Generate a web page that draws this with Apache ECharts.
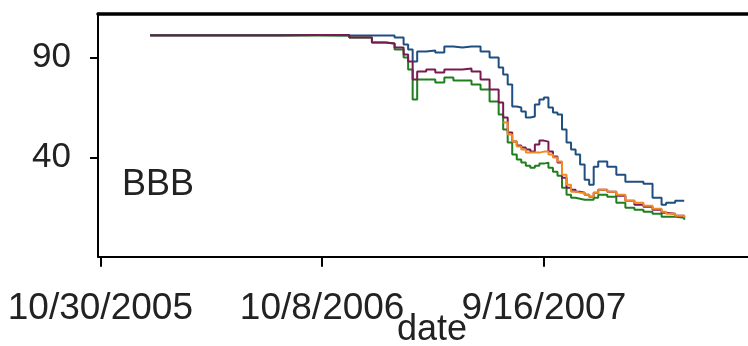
<!DOCTYPE html>
<html>
<head>
<meta charset="utf-8">
<script src="https://cdn.jsdelivr.net/npm/echarts@6/dist/echarts.min.js"></script>
<style>
  html, body { margin: 0; padding: 0; background: #fff; }
  #chart { width: 748px; height: 346px; }
</style>
</head>
<body>
<div id="chart"></div>
<script>
const dates = [
  '2006-01-15', '2006-03-19', '2006-05-28', '2006-08-06', '2006-10-01',
  '2006-11-19', '2006-12-24', '2007-01-14', '2007-01-28', '2007-02-11',
  '2007-02-18', '2007-02-25', '2007-03-04', '2007-03-18', '2007-04-01',
  '2007-04-15', '2007-04-29', '2007-05-13', '2007-05-27', '2007-06-10',
  '2007-06-24', '2007-07-08', '2007-07-15', '2007-07-22', '2007-07-29',
  '2007-08-05', '2007-08-12', '2007-08-19', '2007-08-26', '2007-09-02',
  '2007-09-09', '2007-09-16', '2007-09-23', '2007-09-30', '2007-10-07',
  '2007-10-14', '2007-10-21', '2007-10-28', '2007-11-04', '2007-11-11',
  '2007-11-18', '2007-11-25', '2007-12-02', '2007-12-09', '2007-12-23',
  '2008-01-06', '2008-01-20', '2008-02-03', '2008-02-17', '2008-03-02',
  '2008-03-16', '2008-03-23', '2008-04-06', '2008-04-20'
]

const blue = [
  101.3, 101.3, 101.3, 101.2, 101, 101, 101, 101, 100, 96.5,
  94, 88, 93, 93.5, 92.5, 95.5, 95, 95.5, 95.5, 93,
  90, 85, 81.5, 76.5, 65.5, 65, 63, 60, 60.5, 66.5,
  69, 70, 65, 62.5, 61.5, 54, 47.5, 44, 41.5, 36.5,
  29, 26.5, 35.5, 38, 35.5, 31.5, 28, 28, 27, 20,
  16.5, 17.5, 18.5, 18.5
]
const purple = [
  101, 101, 101, 101.3, 101.3, 100, 97.5, 97, 95, 91.5,
  88, 79, 83, 84, 82.5, 84, 84, 84.5, 83, 79,
  74, 67.5, 60, 52.5, 48, 46, 45, 44, 43, 46.5,
  48.5, 48, 43, 40.5, 37.5, 30, 25, 24, 23, 22.5,
  21.5, 20.5, 22.5, 24, 23, 21, 18.5, 16.5, 15.5, 14,
  12.5, 12, 11, 10
]
const green = [
  101, 101, 101, 101, 101, 100, 97.5, 97, 94, 90,
  84, 69, 79, 79, 77.5, 80, 78.5, 78.5, 76.5, 74,
  68, 61.5, 54, 47.5, 41.5, 39, 37.5, 36, 35, 36,
  37, 37.5, 35, 33, 31, 25, 21.5, 20, 19.5, 19,
  19, 19, 20, 21.5, 20.5, 17.5, 15, 14, 13, 12,
  10.5, 10.5, 10, 9
]
const orange = [
  null, null, null, null, null, null, null, null, null, null,
  null, null, null, null, null, null, null, null, null, null,
  null, null, 57.5, 51.5, 48, 45.5, 44, 42.5, 42.5, 42.5,
  43, 43, 41.5, 40, 38, 31.5, 26.5, 23, 22.5, 22.5,
  21.5, 20.5, 22.5, 24, 23, 21.5, 18.5, 17.5, 16, 14.5,
  13, 12, 11, 10
]

const xTicks = ['2005-10-30', '2006-10-08', '2007-09-16']
const yTicks = [40, 90]

const font = "'Liberation Sans', Arial, sans-serif"
const toTime = s => +new Date(s + 'T00:00:00')
const tickTimes = xTicks.map(toTime)
const xMin = +new Date('2005-10-26T08:00:00')
const xMax = +new Date('2008-07-27T16:00:00')

const fmtDate = v => {
  const d = new Date(v)
  return (d.getMonth() + 1) + '/' + d.getDate() + '/' + d.getFullYear()
}

const mkSeries = (name, vals, color) => ({
  name,
  type: 'line',
  step: 'end',
  data: dates.map((d, i) => [toTime(d), vals[i]]),
  showSymbol: false,
  lineStyle: { width: 2, color },
  itemStyle: { color },
})

const chart = echarts.init(document.getElementById('chart'))
chart.setOption({
  animation: false,
  backgroundColor: '#fff',
  title: {
    text: 'BBB',
    left: 122,
    top: 167,
    padding: 0,
    textStyle: { fontSize: 36, fontWeight: 'normal', color: '#222', fontFamily: font },
  },
  grid: { left: 98, right: 0, top: 13.5, bottom: 89.3, containLabel: false, outerBoundsMode: 'none' },
  xAxis: [
    {
      type: 'value',
      position: 'bottom',
      min: xMin,
      max: xMax,
      name: 'date',
      nameLocation: 'middle',
      nameGap: 55,
      nameMoveOverlap: false,
      nameTextStyle: { fontSize: 36, color: '#222', fontFamily: font, padding: [0, 0, 0, 18] },
      axisLine: { show: true, onZero: false, lineStyle: { color: '#000', width: 2 } },
      axisTick: { show: true, customValues: tickTimes, length: 10, lineStyle: { color: '#000', width: 2 } },
      axisLabel: { customValues: tickTimes, formatter: fmtDate, fontSize: 37, color: '#222', fontFamily: font, margin: 34 },
      splitLine: { show: false },
    },
    {
      type: 'value',
      position: 'top',
      min: xMin,
      max: xMax,
      axisLine: { show: true, onZero: false, lineStyle: { color: '#000', width: 3.5 } },
      axisTick: { show: false },
      axisLabel: { show: false },
      splitLine: { show: false },
    },
  ],
  yAxis: {
    type: 'value',
    min: -9.5,
    max: 112,
    axisLine: { show: true, onZero: false, lineStyle: { color: '#000', width: 2 } },
    axisTick: { show: true, customValues: yTicks, length: 8, lineStyle: { color: '#000', width: 2 } },
    axisLabel: { customValues: yTicks, fontSize: 35, color: '#222', fontFamily: font, margin: 27 },
    splitLine: { show: false },
  },
  series: [
    mkSeries('blue', blue, '#1f4f80'),
    mkSeries('green', green, '#1f7f1f'),
    mkSeries('purple', purple, '#7a1850'),
    mkSeries('orange', orange, '#f08a24'),
  ],
})
</script>
</body>
</html>
